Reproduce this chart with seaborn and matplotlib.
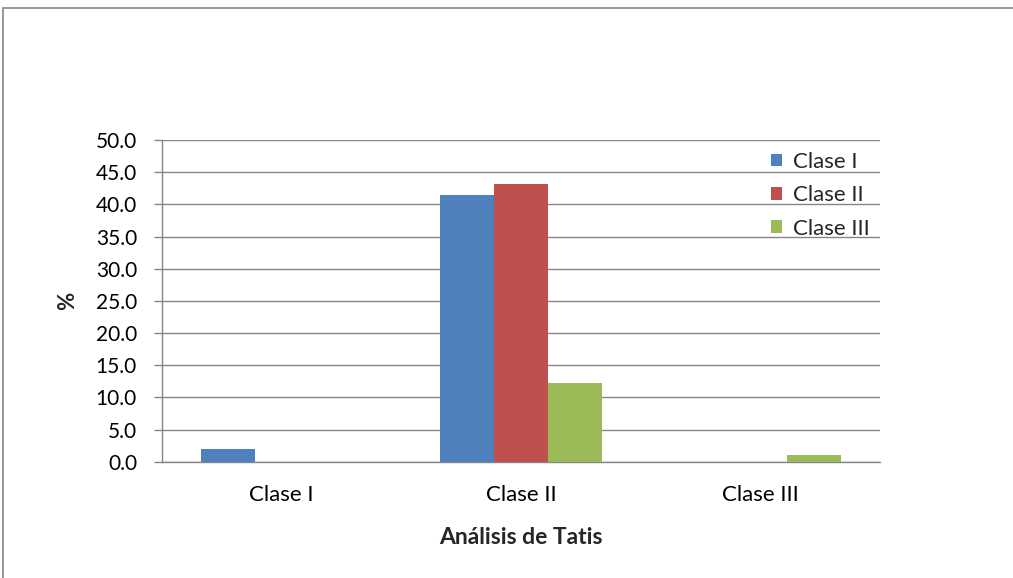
import matplotlib
matplotlib.use("Agg")
import matplotlib.pyplot as plt
from matplotlib.patches import Rectangle
import seaborn as sns
import pandas as pd

categories = ["Clase I", "Clase II", "Clase III"]
series_names = ["Clase I", "Clase II", "Clase III"]
clase_i = [2.0, 41.4, 0.0]
clase_ii = [0.0, 43.2, 0.0]
clase_iii = [0.0, 12.2, 1.0]
colors = ["#4F81BD", "#C0504D", "#9BBB59"]

rows = []
for name, vals in zip(series_names, [clase_i, clase_ii, clase_iii]):
    for cat, v in zip(categories, vals):
        rows.append({"cat": cat, "serie": name, "val": v})
df = pd.DataFrame(rows)

sns.set_theme(style="white")
plt.rcParams["font.family"] = ["Lato", "DejaVu Sans"]

fig = plt.figure(figsize=(10.13, 5.78), dpi=100)
ax = fig.add_axes([162 / 1013, 1 - 461.7 / 578, 718 / 1013, 321.7 / 578])

sns.barplot(data=df, x="cat", y="val", hue="serie", order=categories,
            hue_order=series_names, palette=colors, width=0.677, gap=0,
            saturation=1, ax=ax, zorder=3, linewidth=0)

grid_c = "#868686"
ax.set_ylim(0, 50)
ax.set_yticks([i * 5 for i in range(11)])
ax.set_yticklabels([f"{i * 5:.1f}" for i in range(11)], fontsize=15)
ax.set_xlim(-0.5, 2.5)
ax.yaxis.grid(True, color=grid_c, linewidth=1.0, zorder=0)
ax.set_axisbelow(True)
for s in ["top", "right"]:
    ax.spines[s].set_visible(False)
for s in ["left", "bottom"]:
    ax.spines[s].set_color(grid_c)
    ax.spines[s].set_linewidth(1.0)
ax.tick_params(axis="y", length=6, width=1.0, color=grid_c, pad=12, left=True,
               direction="out", labelcolor="black")
ax.tick_params(axis="x", length=0, pad=17, labelsize=16, labelcolor="black")

ax.set_xlabel("Análisis de Tatis", fontsize=16.5, fontweight="bold")
ax.xaxis.set_label_coords(0.5, (461.7 - 537) / 321.7)
ax.xaxis.label.set_va("center")
ax.set_ylabel("%", fontsize=16, fontweight="bold")
ax.yaxis.set_label_coords((68 - 162) / 718, 0.5)
ax.yaxis.label.set_va("center")

sns.move_legend(ax, loc="upper left", bbox_to_anchor=(609 / 718, 1 - 12 / 321.7),
                frameon=False, fontsize=16, title=None, handlelength=0.5,
                handleheight=0.5, handletextpad=0.5, labelspacing=0.6,
                borderpad=0, borderaxespad=0)

fig.patches.append(Rectangle((3 / 1013, -0.1), 1.2, 1 - 8 / 578 + 0.1,
                             transform=fig.transFigure, fill=False,
                             edgecolor=grid_c, linewidth=1.2))

fig.savefig("out.png", dpi=100)
